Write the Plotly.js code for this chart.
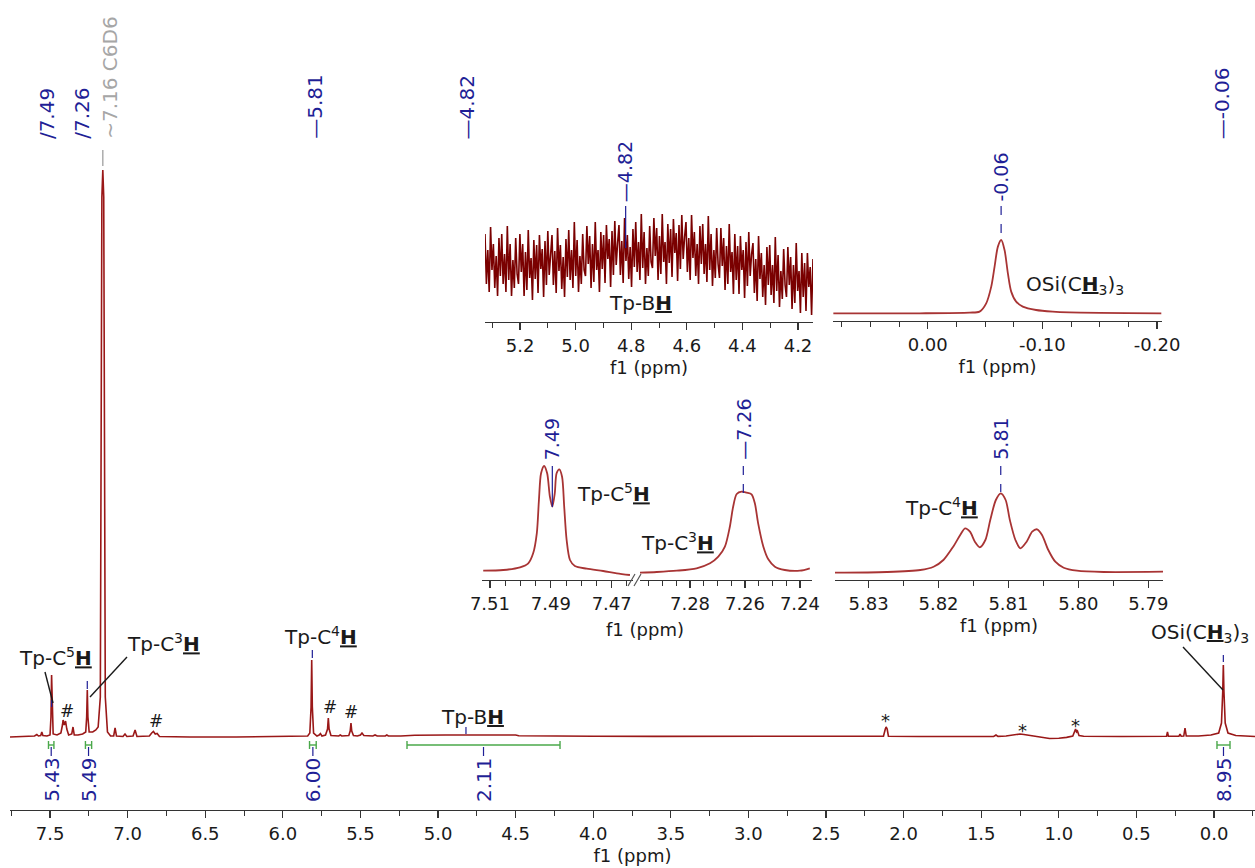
<!DOCTYPE html>
<html>
<head>
<meta charset="utf-8">
<script src="https://cdn.plot.ly/plotly-3.0.1.min.js"></script>
<style>
  html, body { margin: 0; padding: 0; background: #fff; }
  #nmr { width: 1255px; height: 868px; }
</style>
</head>
<body>
<div id="nmr"></div>
<script>
// ---------- 1H NMR (C6D6): full spectrum, chemical shift (ppm) vs. intensity ----------
const fullPpm = [7.758, 7.65, 7.60, 7.585, 7.575, 7.560, 7.553, 7.546, 7.52, 7.500, 7.494, 7.490, 7.486, 7.480,
  7.455, 7.430, 7.420, 7.416, 7.408, 7.400, 7.392, 7.380, 7.360, 7.352, 7.344, 7.320, 7.290, 7.270, 7.264, 7.260,
  7.256, 7.248, 7.225, 7.205, 7.190, 7.176, 7.166, 7.160, 7.154, 7.144, 7.130, 7.110, 7.090, 7.081, 7.072, 7.030,
  7.017, 7.005, 6.965, 6.952, 6.940, 6.860, 6.845, 6.834, 6.822, 6.810, 6.795, 6.60, 6.30, 6.00, 5.90, 5.840,
  5.826, 5.818, 5.814, 5.810, 5.802, 5.780, 5.766, 5.758, 5.748, 5.725, 5.712, 5.707, 5.702, 5.690, 5.640, 5.630,
  5.620, 5.575, 5.566, 5.561, 5.556, 5.545, 5.520, 5.500, 5.490, 5.478, 5.420, 5.406, 5.392, 5.340, 5.330, 5.320,
  5.240, 5.150, 4.950, 4.750, 4.500, 4.480, 4.300, 4.000, 3.600, 3.000, 2.500, 2.130, 2.118, 2.113, 2.106, 2.098,
  1.900, 1.600, 1.420, 1.405, 1.392, 1.340, 1.290, 1.250, 1.225, 1.170, 1.120, 1.060, 1.000, 0.950, 0.910, 0.900,
  0.892, 0.886, 0.880, 0.870, 0.840, 0.600, 0.400, 0.306, 0.300, 0.294, 0.226, 0.219, 0.212, 0.195, 0.187, 0.179,
  0.100, 0.020, -0.030, -0.048, -0.056, -0.060, -0.064, -0.072, -0.090, -0.140, -0.264];
const fullInt = [0, 0.5, 1, 2.5, 1, 1.5, 5, 1.5, 1, 2, 20, 62, 20, 3,
  2, 4, 12, 17, 12, 16, 8, 2, 3, 10, 2, 2, 3, 5, 20, 47,
  20, 5, 5, 7, 10, 40, 540, 567, 540, 40, 5, 1, 1, 9, 1, 0.5,
  3, 0.5, 1, 7, 0.5, 1, 4, 5.5, 3, 3.5, 0.5, 0, 0, 0.5, 0.8, 1,
  4, 30, 77, 30, 4, 1, 2, 3.5, 1, 2, 8, 19, 8, 1.5, 1, 2,
  1, 1.5, 6, 14, 6, 1.5, 1, 2, 4, 1.5, 1, 2, 1, 1, 2, 1,
  1, 1.8, 2, 2, 2, 1.2, 0.8, 0.8, 0.6, 0.6, 0.5, 0.8, 8, 10, 8, 0.8,
  0.5, 0.5, 0.6, 2, 0.6, 1, 2, 3, 2.5, 1, -0.5, -1.5, -1.2, -0.4, 1, 5,
  8, 5, 6, 1.5, 0.8, 0.5, 0.8, 0.8, 5, 0.8, 0.8, 3, 0.8, 1, 9, 1,
  1, 2, 4, 14, 45, 72, 45, 14, 4, 1.5, 0.5];

// ---------- Tp-BH expansion: broad, noisy signal on a uniform ppm grid ----------
const bhStart = 5.326;
const bhStep = -0.005021;
const bhInt = [
  88, 38, 72, 30, 95, 52, 78, 34, 66, 26, 84, 46,
  88, 38, 68, 30, 96, 42, 78, 26, 62, 34, 84, 48,
  38, 88, 50, 78, 26, 70, 32, 92, 44, 64, 22, 82,
  43, 77, 29, 87, 53, 73, 25, 81, 37, 91, 47, 69,
  87, 37, 71, 29, 94, 51, 77, 33, 65, 25, 83, 45,
  92, 42, 72, 34, 100, 46, 82, 30, 66, 38, 88, 52,
  46, 96, 58, 86, 34, 78, 40, 100, 52, 72, 30, 90,
  53, 87, 39, 97, 63, 83, 35, 91, 47, 101, 57, 79,
  97, 47, 81, 39, 104, 61, 87, 43, 75, 35, 93, 55,
  100, 50, 80, 42, 108, 54, 90, 38, 74, 46, 96, 60,
  54, 104, 66, 94, 42, 86, 48, 108, 60, 80, 38, 98,
  59, 93, 45, 103, 69, 89, 41, 97, 53, 107, 63, 85,
  100, 50, 84, 42, 107, 64, 90, 46, 78, 38, 96, 58,
  98, 48, 78, 40, 106, 52, 88, 36, 72, 44, 94, 58,
  44, 94, 56, 84, 32, 76, 38, 98, 50, 70, 28, 88,
  42, 76, 28, 86, 52, 72, 24, 80, 36, 90, 46, 68,
  79, 29, 63, 21, 86, 43, 69, 25, 57, 17, 75, 37,
  77, 27, 57, 19, 85, 31, 67, 15, 51, 23, 73, 37,
  25, 75, 37, 65, 13, 57, 19, 79, 31, 51, 9, 69,
  25, 59, 11, 69, 35, 55, 7, 63];

// ---------- OSi(CH3)3 expansion ----------
const siPpm = [0.0823, 0.0070, -0.0365, -0.0452, -0.0510, -0.0554, -0.0583, -0.0612, -0.0641, -0.0670,
  -0.0699, -0.0728, -0.0771, -0.0829, -0.0945, -0.1090, -0.1235, -0.2037];
const siInt = [0, 0, 0.7, 1.7, 10, 26.7, 46.7, 66.7, 73.3, 63.3, 40, 21.7, 11.7, 6.7, 3.3, 1.7, 1, 0];

// ---------- Tp-C5H expansion ----------
const c5Ppm = [7.5122, 7.5056, 7.5001, 7.4974, 7.4958, 7.4946, 7.4939, 7.4932, 7.4922, 7.4912, 7.4903, 7.4895,
  7.4887, 7.4881, 7.4872, 7.4863, 7.4856, 7.4848, 7.4837, 7.4821, 7.4782, 7.4728, 7.4683, 7.4640];
const c5Int = [9.3, 10, 12.7, 16.7, 26.7, 46.7, 80, 106.7, 114, 106.7, 83.3, 73.3,
  86.7, 106.7, 110.7, 103.3, 73.3, 40, 20, 14, 11.3, 9, 6.7, 5];

// ---------- Tp-C3H expansion ----------
const c3Ppm = [7.2982, 7.2921, 7.2848, 7.2776, 7.2727, 7.2697, 7.2673, 7.2655, 7.2643, 7.2630, 7.2612,
  7.2594, 7.2576, 7.2564, 7.2552, 7.2533, 7.2515, 7.2491, 7.2455, 7.2400, 7.2364];
const c3Int = [7.3, 8, 9.3, 11.7, 16.7, 23.3, 33.3, 53.3, 73.3, 86, 88.3,
  87.3, 85.7, 76.7, 56.7, 33.3, 20.7, 13.3, 10, 9.3, 11.7];

// ---------- Tp-C4H expansion ----------
const c4Ppm = [5.8348, 5.8274, 5.8226, 5.8207, 5.8193, 5.8179, 5.8169, 5.8162, 5.8155, 5.8148, 5.8141,
  5.8133, 5.8126, 5.8118, 5.8111, 5.8104, 5.8098, 5.8090, 5.8083, 5.8074, 5.8066, 5.8059, 5.8052,
  5.8043, 5.8033, 5.8021, 5.8002, 5.7964, 5.7879];
const c4Int = [7.3, 8, 10, 13.3, 20, 33.3, 45, 51.7, 48.3, 38.3, 32.7,
  40, 60, 80, 86.7, 80, 60, 40, 31.7, 38.3, 48.3, 50.7, 45,
  30, 18.3, 12.3, 9.3, 8, 8.3];

// ---------- peak picking (top of the full spectrum) ----------
const pickText = ['/7.49', '/7.26', '~7.16 C6D6', '\u20145.81', '\u20144.82', '\u2014-0.06'];
const pickPpm = [7.49, 7.26, 7.16, 5.81, 4.82, -0.06];
const pickShift = [-5, -6, 7, 2, 1, -1];

// ---------- integrals ----------
const intFrom = [7.51, 7.272, 5.828, 5.20, -0.019];
const intTo = [7.475, 7.232, 5.785, 4.214, -0.103];
const intText = ['5.43', '5.49', '6.00', '2.11', '8.95'];

// ---------- tick labels of the OSi(CH3)3 expansion ----------
const siTickVals = [0, -0.1, -0.2];
const siTickText = ['0.00', '-0.10', '-0.20'];

// ---------- drawing ----------
const W = 1255, H = 868;
const PX = p => p / W;
const PY = p => 1 - p / H;
const FONT = 'DejaVu Sans, Verdana, sans-serif';
const RED = '#9a1818', RED2 = '#a83434', NOISE = '#7a0000';
const BLUE = '#1f1f96', GREY = '#a6a6a6', GREEN = '#4aa84a', INK = '#1a1a1a';

const traces = [
  {x: fullPpm, y: fullInt, xaxis: 'x', yaxis: 'y', mode: 'lines', line: {color: RED, width: 1.6}},
  {y: bhInt, x0: bhStart, dx: bhStep, xaxis: 'x2', yaxis: 'y2', mode: 'lines', line: {color: NOISE, width: 1.6}},
  {x: siPpm, y: siInt, xaxis: 'x3', yaxis: 'y3', mode: 'lines', line: {color: RED2, width: 1.8, shape: 'spline', smoothing: 0.8}},
  {x: c5Ppm, y: c5Int, xaxis: 'x4', yaxis: 'y4', mode: 'lines', line: {color: RED2, width: 1.8, shape: 'spline', smoothing: 0.8}},
  {x: c3Ppm, y: c3Int, xaxis: 'x5', yaxis: 'y4', mode: 'lines', line: {color: RED2, width: 1.8, shape: 'spline', smoothing: 0.8}},
  {x: c4Ppm, y: c4Int, xaxis: 'x6', yaxis: 'y5', mode: 'lines', line: {color: RED2, width: 1.8, shape: 'spline', smoothing: 0.8}}
];

const tickFont = {family: FONT, size: 18, color: INK};
function xAxis(domainPx, range, anchor, dtick, tick0, fmt, minorDtick, withTitle) {
  const ax = {
    domain: [PX(domainPx[0]), PX(domainPx[1])], range: range, anchor: anchor,
    showline: true, linecolor: '#333', linewidth: 1.3, mirror: false, zeroline: false, showgrid: false,
    ticks: 'outside', ticklen: 7, tickwidth: 1.2, tickcolor: '#333',
    tick0: tick0, dtick: dtick, tickformat: fmt, tickfont: tickFont,
    minor: {dtick: minorDtick, ticks: 'outside', ticklen: 5, tickwidth: 1, tickcolor: '#333', showgrid: false},
    fixedrange: true
  };
  if (withTitle) ax.title = {text: 'f1 (ppm)', font: {family: FONT, size: 18, color: INK}, standoff: 6};
  return ax;
}
function yAxis(domainPx, range) {
  return {domain: [PY(domainPx[0]), PY(domainPx[1])], range: range, visible: false, fixedrange: true};
}

const layout = {
  width: W, height: H, margin: {l: 0, r: 0, t: 0, b: 0},
  paper_bgcolor: '#fff', plot_bgcolor: 'rgba(0,0,0,0)', showlegend: false,
  font: {family: FONT, color: INK},
  xaxis: xAxis([10, 1255], [7.758, -0.264], 'y', 0.5, 0, '.1f', 0.25, true),
  yaxis: yAxis([810, 160], [-73, 577]),
  xaxis2: xAxis([485, 813], [5.326, 4.146], 'y2', 0.2, 0, '.1f', 0.1, true),
  yaxis2: yAxis([322, 205], [0, 117]),
  xaxis3: Object.assign(xAxis([833, 1162], [0.0826, -0.2043], 'y3', 0.1, 0, '.2f', 0.025, true),
    {tickmode: 'array', tickvals: siTickVals, ticktext: siTickText}),
  yaxis3: yAxis([321, 233], [-7.7, 80.3]),
  xaxis4: xAxis([482, 633], [7.5126, 7.4630], 'y4', 0.02, 7.51, '.2f', 0.005, false),
  xaxis5: xAxis([640, 812], [7.2982, 7.2356], 'y4', 0.02, 7.28, '.2f', 0.005, false),
  yaxis4: yAxis([580, 455], [0, 125]),
  xaxis6: xAxis([835, 1163], [5.8348, 5.7879], 'y5', 0.01, 5.83, '.2f', 0.005, true),
  yaxis5: yAxis([580, 455], [0, 125]),
  annotations: [],
  shapes: []
};
layout.xaxis3.minor.tick0 = 0;

const ann = layout.annotations, shp = layout.shapes;
function label(text, xpx, ypx, size, color) {
  ann.push({text: text, xref: 'paper', yref: 'paper', x: PX(xpx), y: PY(ypx), xanchor: 'center', yanchor: 'middle',
    showarrow: false, font: {family: FONT, size: size || 20, color: color || INK}});
}
function seg(x0, y0, x1, y1, color, width, dash, xref) {
  shp.push({type: 'line', xref: xref || 'paper', yref: 'paper',
    x0: xref ? x0 : PX(x0), x1: xref ? x1 : PX(x1), y0: PY(y0), y1: PY(y1),
    line: {color: color, width: width || 1.2, dash: dash || 'solid'}});
}
function vlabel(text, xref, x, ypx, anchor, color, size) {
  ann.push({text: text, xref: xref, yref: 'paper', x: x, y: PY(ypx), textangle: -90,
    xanchor: 'center', yanchor: anchor, showarrow: false, font: {family: FONT, size: size || 19, color: color}});
}

// peak labels above the full spectrum
pickText.forEach((t, i) => {
  ann.push({text: t, xref: 'x', yref: 'paper', x: pickPpm[i], y: PY(141), xshift: pickShift[i], textangle: -90,
    xanchor: 'center', yanchor: 'bottom', showarrow: false,
    font: {family: FONT, size: 20, color: i === 2 ? GREY : BLUE}});
});
// peak-pick marks on the full spectrum
seg(7.49, 700, 7.49, 707, BLUE, 1.2, 'solid', 'x');
seg(7.26, 681, 7.26, 689, BLUE, 1.2, 'solid', 'x');
seg(7.16, 150, 7.16, 166, GREY, 1.4, 'solid', 'x');
seg(5.81, 650, 5.81, 658, BLUE, 1.2, 'solid', 'x');
seg(4.82, 727, 4.82, 734, BLUE, 1.2, 'solid', 'x');
seg(-0.06, 655, -0.06, 662, BLUE, 1.2, 'solid', 'x');

// integrals
intText.forEach((t, i) => {
  seg(intFrom[i], 745, intTo[i], 745, GREEN, 1.4, 'solid', 'x');
  seg(intFrom[i], 741, intFrom[i], 749, GREEN, 1.4, 'solid', 'x');
  seg(intTo[i], 741, intTo[i], 749, GREEN, 1.4, 'solid', 'x');
  const mid = (intFrom[i] + intTo[i]) / 2;
  seg(mid, 747, mid, 756, BLUE, 1.2, 'solid', 'x');
  vlabel(t, 'x', mid, 755, 'top', BLUE, 20);
});

// assignments on the full spectrum
const C5 = 'Tp-C<sup>5</sup><b><u>H</u></b>';
const C3 = 'Tp-C<sup>3</sup><b><u>H</u></b>';
const C4 = 'Tp-C<sup>4</sup><b><u>H</u></b>';
const BH = 'Tp-B<b><u>H</u></b>';
const SI = 'OSi(C<b><u>H</u></b><sub>3</sub>)<sub>3</sub>';
label(C5, 55, 657);
label(C3, 163, 643);
label(C4, 320, 636);
label(BH, 472, 717);
label(SI, 1200, 633);
seg(45, 672, 53, 703, INK, 1.4);
seg(127, 657, 90, 697, INK, 1.4);
seg(1183, 647, 1223, 690, INK, 1.4);
[[67, 711], [156, 721], [330, 707], [351, 712]].forEach(p => label('#', p[0], p[1], 17));
[[885, 720], [1022, 730], [1075, 725]].forEach(p => label('*', p[0], p[1], 18));

// Tp-BH expansion
label(BH, 640, 303);
vlabel('\u20144.82', 'x2', 4.82, 204, 'bottom', BLUE);
seg(4.82, 206, 4.82, 248, BLUE, 1.2, 'solid', 'x2');

// OSi(CH3)3 expansion
label(SI, 1075, 285);
vlabel('-0.06', 'x3', -0.064, 204, 'bottom', BLUE);
seg(-0.064, 206, -0.064, 239, BLUE, 1.2, 'dash', 'x3');

// Tp-C5H / Tp-C3H expansion (broken axis)
label(C5, 613, 493);
label(C3, 677, 542);
vlabel('7.49', 'x4', 7.4895, 462, 'bottom', BLUE);
seg(7.4895, 466, 7.4895, 507, BLUE, 1.2, 'solid', 'x4');
vlabel('\u20147.26', 'x5', 7.2606, 462, 'bottom', BLUE);
seg(7.2606, 466, 7.2606, 493, BLUE, 1.2, 'dash', 'x5');
seg(628, 586, 635, 574, '#555', 1.2);
seg(634, 586, 641, 574, '#555', 1.2);
label('f1 (ppm)', 645, 629, 18);

// Tp-C4H expansion
label(C4, 941, 507);
vlabel('5.81', 'x6', 5.8111, 462, 'bottom', BLUE);
seg(5.8111, 466, 5.8111, 492, BLUE, 1.2, 'dash', 'x6');

Plotly.newPlot('nmr', traces, layout, {staticPlot: true, displayModeBar: false});
</script>
</body>
</html>
